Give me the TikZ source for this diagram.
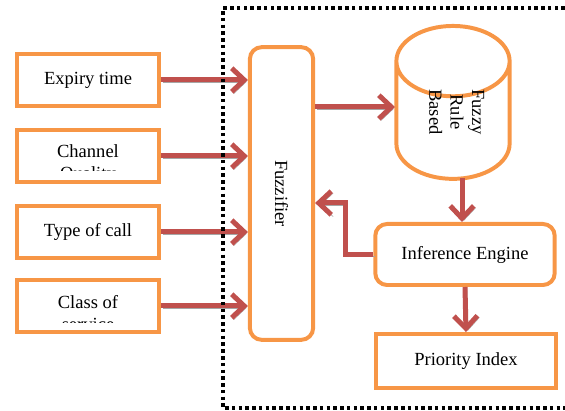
\documentclass[tikz,border=0pt]{standalone}
\usepackage{fontspec}
\setmainfont{Liberation Serif}
\usetikzlibrary{arrows.meta,positioning,shapes.geometric}
\definecolor{boxorange}{HTML}{F79646}
\definecolor{arrowred}{HTML}{C0504D}

\newcommand{\rulelabel}{\rotatebox{-90}{\begin{tabular}{@{}c@{}}Fuzzy\\Rule\\Based\end{tabular}}}

\begin{document}
\begin{tikzpicture}[x=0.68pt,y=-0.68pt,
  box/.style={draw=boxorange, line width=2.7pt, minimum width=97pt, minimum height=35pt, inner sep=0pt, font=\fontsize{12.6}{14.5}\selectfont},
  roundbox/.style={box, rounded corners=8pt},
  txt/.style={font=\fontsize{12.6}{14.5}\selectfont, align=center, inner sep=0pt},
  flow/.style={draw=arrowred, line width=3.4pt, -{Straight Barb[length=8.5pt,width=16pt]},
    preaction={draw=gray!70, transform canvas={shift={(1.3pt,-1.3pt)}}}},
  frame/.style={line width=2.6pt, dash pattern=on 2.4pt off 2.2pt}
]
\useasboundingbox (0,0) rectangle (565,411);

% inputs
\node[box] (expiry) at (88,80) {Expiry time};
\node[box] (channel) at (88,156) {};
\node[box] (calltype) at (88,232) {Type of call};
\node[box] (class) at (88,306) {};
\begin{scope}
  \clip (15,128) rectangle (162,171);
  \node[txt] (channeltxt) at (88,164) {Channel\\Quality};
\end{scope}
\begin{scope}
  \clip (15,278) rectangle (162,322);
  \node[txt] (classtxt) at (88,313) {Class of\\service};
\end{scope}

% fuzzy system
\node[roundbox, minimum width=43pt, minimum height=199pt] (fuzz) at (281.5,193.5) {\rotatebox{-90}{Fuzzifier}};
\node[draw=boxorange, line width=2.7pt, cylinder, shape border rotate=90, aspect=1.1,
  minimum width=77pt, minimum height=104pt, inner sep=0pt,
  font=\fontsize{12.6}{14.5}\selectfont] (rule) at (453,121) {\phantom{\rulelabel}};
\node[txt] (ruletxt) at (455,112) {\rulelabel};
\node[roundbox, minimum width=122pt, minimum height=41.5pt] (engine) at (465,254.5) {Inference Engine};
\node[box, minimum width=122pt, minimum height=36.7pt] (priority) at (466,361) {Priority Index};

\coordinate (rulein) at (395,107);
\coordinate (ruleout) at (462,178);
\coordinate (bend) at (345,203);

% connectors
\draw[flow] (expiry.east) -- (expiry.east -| fuzz.west);
\draw[flow] (channel.east) -- (channel.east -| fuzz.west);
\draw[flow] (calltype.east) -- (calltype.east -| fuzz.west);
\draw[flow] (class.east) -- (class.east -| fuzz.west);
\draw[flow] (fuzz.east |- rulein) -- (rulein);
\draw[flow] (ruleout) -- (ruleout |- engine.north);
\draw[flow] (engine.west) -| (bend) -- (bend -| fuzz.east);
\draw[flow] (engine.south) -- (priority.north);

\draw[frame] (565,8) -| (223,408) -- (565,408);
\end{tikzpicture}
\end{document}
